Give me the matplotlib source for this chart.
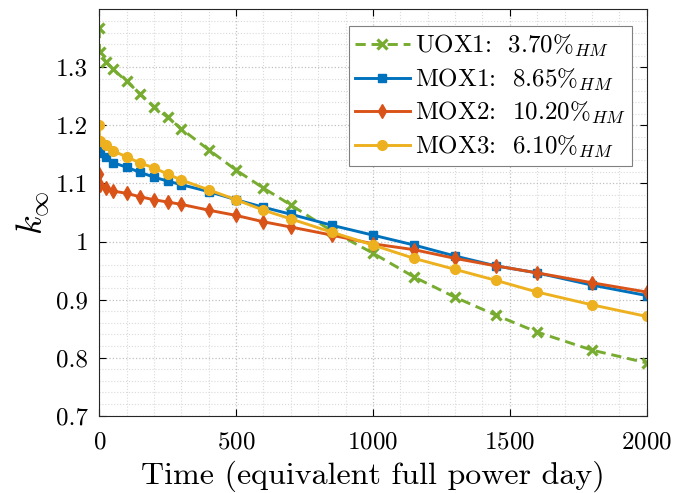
import matplotlib
matplotlib.use('Agg')
import matplotlib.pyplot as plt
from matplotlib.ticker import MultipleLocator, FuncFormatter

plt.rcParams['font.family'] = 'serif'
plt.rcParams['font.serif'] = ['cmr10']
plt.rcParams['mathtext.fontset'] = 'cm'
plt.rcParams['axes.formatter.use_mathtext'] = True

# burnup steps (equivalent full power days)
DAYS = [0, 1, 25, 50, 100, 150, 200, 250, 300, 400, 500, 600, 700,
        850, 1000, 1150, 1300, 1450, 1600, 1800, 2000]

UOX1 = [1.368, 1.326, 1.309, 1.297, 1.276, 1.254, 1.232, 1.214, 1.194, 1.158, 1.123,
        1.092, 1.063, 1.018, 0.980, 0.939, 0.904, 0.873, 0.844, 0.813, 0.791]
MOX1 = [1.165, 1.152, 1.145, 1.136, 1.128, 1.119, 1.111, 1.104, 1.098, 1.086, 1.072,
        1.059, 1.047, 1.028, 1.011, 0.994, 0.975, 0.958, 0.946, 0.925, 0.907]
MOX2 = [1.117, 1.098, 1.093, 1.087, 1.083, 1.077, 1.072, 1.068, 1.064, 1.054, 1.045,
        1.034, 1.025, 1.011, 0.996, 0.986, 0.971, 0.958, 0.946, 0.929, 0.913]
MOX3 = [1.201, 1.174, 1.166, 1.156, 1.146, 1.135, 1.127, 1.116, 1.106, 1.089, 1.072,
        1.054, 1.039, 1.016, 0.994, 0.971, 0.952, 0.933, 0.913, 0.891, 0.871]

LABELS = [r'UOX1:  3.70$\%_{HM}$',
          r'MOX1:  8.65$\%_{HM}$',
          r'MOX2:  10.20$\%_{HM}$',
          r'MOX3:  6.10$\%_{HM}$']

fig = plt.figure(figsize=(6.87, 4.93), dpi=100)
ax = fig.add_axes([0.1445, 0.1568, 0.7968, 0.8243])

ax.plot(DAYS, UOX1, color='#77AC30', lw=2.1, dashes=(3.5, 2), marker='x', ms=7.5, mew=2.3, label=LABELS[0])
ax.plot(DAYS, MOX1, color='#0072BD', lw=2.1, marker='s', ms=6, label=LABELS[1])
ax.plot(DAYS, MOX2, color='#D95319', lw=2.1, marker='d', ms=7.5, label=LABELS[2])
ax.plot(DAYS, MOX3, color='#EDB120', lw=2.1, marker='o', ms=7, label=LABELS[3])

ax.set_xlim(0, 2000)
ax.set_ylim(0.7, 1.4)
ax.set_xticks([0, 500, 1000, 1500, 2000])
ax.set_yticks([0.7, 0.8, 0.9, 1.0, 1.1, 1.2, 1.3])
ax.yaxis.set_major_formatter(FuncFormatter(lambda v, p: '%g' % v))
ax.xaxis.set_minor_locator(MultipleLocator(100))
ax.yaxis.set_minor_locator(MultipleLocator(0.02))

ax.grid(which='major', ls=':', color='#c0c0c0', lw=0.9)
ax.grid(which='minor', ls=':', color='#dadada', lw=0.8)
ax.set_axisbelow(True)
ax.tick_params(which='major', direction='in', top=True, right=True, length=5,
               width=0.8, labelsize=18, pad=8)
ax.tick_params(axis='x', which='major', pad=11)
ax.tick_params(which='minor', length=0)
for s in ax.spines.values():
    s.set_linewidth(0.8)
    s.set_color('#262626')

ax.set_xlabel('Time (equivalent full power day)', fontsize=23, labelpad=5)
ax.set_ylabel(r'$k_\infty$', fontsize=26, labelpad=3)

leg = ax.legend(loc='upper right', bbox_to_anchor=(0.973, 0.958), borderaxespad=0,
                fontsize=18, fancybox=False, framealpha=1, edgecolor='#808080',
                handlelength=2.2, handletextpad=0.2, labelspacing=0.3, borderpad=0.25)
leg.get_frame().set_linewidth(0.8)

fig.savefig('out.png', dpi=100)
